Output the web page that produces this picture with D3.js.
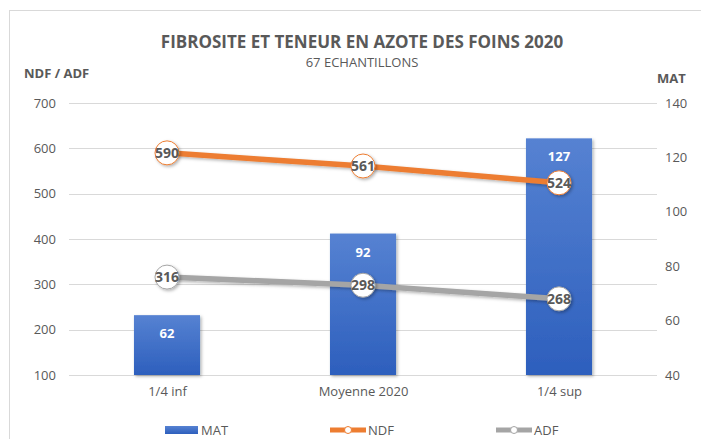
<!DOCTYPE html>
<html>
<head>
<meta charset="utf-8">
<script src="https://cdn.jsdelivr.net/npm/d3@7"></script>
<style>
  body { margin: 0; background: #fff; }
  text { font-family: "Open Sans", sans-serif; }
</style>
</head>
<body>
<script>
var categories = ["1/4 inf", "Moyenne 2020", "1/4 sup"];
var mat = [62, 92, 127];
var ndf = [590, 561, 524];
var adf = [316, 298, 268];
var leftTicks = [100, 200, 300, 400, 500, 600, 700];
var rightTicks = [40, 60, 80, 100, 120, 140];

var width = 701, height = 439;
var plot = {left: 69, right: 657, top: 103, bottom: 375};

var svg = d3.select("body").append("svg")
    .attr("width", width)
    .attr("height", height);

var defs = svg.append("defs");
var grad = defs.append("linearGradient")
    .attr("id", "barGrad").attr("x1", 0).attr("y1", 0).attr("x2", 0).attr("y2", 1);
grad.append("stop").attr("offset", "0%").attr("stop-color", "#5682d2");
grad.append("stop").attr("offset", "100%").attr("stop-color", "#2d5fbd");

var shadow = defs.append("filter").attr("id", "shadow")
    .attr("x", "-20%").attr("y", "-20%").attr("width", "150%").attr("height", "150%");
shadow.append("feDropShadow")
    .attr("dx", 1.5).attr("dy", 1.5).attr("stdDeviation", 1.5)
    .attr("flood-color", "#000").attr("flood-opacity", 0.3);

// cadre du graphique
svg.append("rect")
    .attr("x", 9.5).attr("y", 10.5)
    .attr("width", 800).attr("height", 800)
    .attr("fill", "none").attr("stroke", "#d9d9d9");

var x = d3.scalePoint().domain(categories).range([plot.left, plot.right]).padding(0.5);
var barW = x.step() * 0.337;
var yL = d3.scaleLinear().domain([100, 700]).range([plot.bottom, plot.top]);
var yR = d3.scaleLinear().domain([40, 140]).range([plot.bottom, plot.top]);

// grille
svg.append("g").selectAll("line")
    .data(leftTicks)
    .enter().append("line")
    .attr("x1", plot.left).attr("x2", plot.right)
    .attr("y1", function(d) { return Math.round(yL(d)) + 0.5; })
    .attr("y2", function(d) { return Math.round(yL(d)) + 0.5; })
    .attr("stroke", "#d9d9d9");

function styleAxis(ax) {
  ax.select(".domain").remove();
  ax.selectAll("text").attr("font-size", 13).attr("fill", "#595959")
      .style("font-family", "'Open Sans', sans-serif");
}

var axL = svg.append("g").attr("transform", "translate(" + plot.left + ",0)")
    .call(d3.axisLeft(yL).tickValues(leftTicks).tickSize(0).tickPadding(13));
styleAxis(axL);

var axR = svg.append("g").attr("transform", "translate(" + plot.right + ",0)")
    .call(d3.axisRight(yR).tickValues(rightTicks).tickSize(0).tickPadding(8));
styleAxis(axR);

var axX = svg.append("g").attr("transform", "translate(0," + plot.bottom + ")")
    .call(d3.axisBottom(x).tickSize(0).tickPadding(12));
styleAxis(axX);

// barres MAT
svg.append("g").selectAll("rect")
    .data(mat)
    .enter().append("rect")
    .attr("x", function(d, i) { return x(categories[i]) - barW / 2; })
    .attr("y", function(d) { return yR(d); })
    .attr("width", barW)
    .attr("height", function(d) { return plot.bottom - yR(d); })
    .attr("fill", "url(#barGrad)")
    .attr("filter", "url(#shadow)");

svg.append("g").selectAll("text")
    .data(mat)
    .enter().append("text")
    .attr("x", function(d, i) { return x(categories[i]); })
    .attr("y", function(d) { return yR(d) + 23; })
    .attr("text-anchor", "middle")
    .attr("font-size", 13).attr("font-weight", "bold")
    .attr("fill", "#fff")
    .text(function(d) { return d; });

// courbes NDF / ADF
function drawSeries(values, color) {
  var line = d3.line()
      .x(function(d, i) { return x(categories[i]); })
      .y(function(d) { return yL(d); });
  svg.append("path")
      .datum(values)
      .attr("d", line)
      .attr("fill", "none")
      .attr("stroke", color)
      .attr("stroke-width", 5.5)
      .attr("filter", "url(#shadow)");
  var g = svg.append("g");
  g.selectAll("circle")
      .data(values)
      .enter().append("circle")
      .attr("cx", function(d, i) { return x(categories[i]); })
      .attr("cy", function(d) { return yL(d); })
      .attr("r", 12)
      .attr("fill", "#fff")
      .attr("stroke", color)
      .attr("stroke-width", 1)
      .attr("filter", "url(#shadow)");
  g.selectAll("text")
      .data(values)
      .enter().append("text")
      .attr("x", function(d, i) { return x(categories[i]); })
      .attr("y", function(d) { return yL(d) + 5; })
      .attr("text-anchor", "middle")
      .attr("font-size", 14).attr("font-weight", "bold")
      .attr("fill", "#595959")
      .text(function(d) { return d; });
}
drawSeries(ndf, "#ed7d31");
drawSeries(adf, "#a5a5a5");

// titres
svg.append("text")
    .attr("x", 362).attr("y", 48)
    .attr("text-anchor", "middle")
    .attr("font-size", 17).attr("font-weight", "bold")
    .attr("fill", "#595959")
    .text("FIBROSITE ET TENEUR EN AZOTE DES FOINS 2020");
svg.append("text")
    .attr("x", 362).attr("y", 67)
    .attr("text-anchor", "middle")
    .attr("font-size", 13)
    .attr("fill", "#595959")
    .text("67 ECHANTILLONS");
svg.append("text")
    .attr("x", 24).attr("y", 78)
    .attr("font-size", 13).attr("font-weight", "bold")
    .attr("fill", "#595959")
    .text("NDF / ADF");
svg.append("text")
    .attr("x", 657).attr("y", 83)
    .attr("font-size", 13).attr("font-weight", "bold")
    .attr("fill", "#595959")
    .text("MAT");

// légende
var legendY = 430;
var leg = svg.append("g");
leg.append("rect")
    .attr("x", 165).attr("y", legendY - 4).attr("width", 33).attr("height", 8)
    .attr("fill", "url(#barGrad)");
leg.append("text").attr("x", 201).attr("y", legendY + 5)
    .attr("font-size", 13).attr("fill", "#595959").text("MAT");

var lineLegend = [{name: "NDF", color: "#ed7d31", x: 330}, {name: "ADF", color: "#a5a5a5", x: 496}];
lineLegend.forEach(function(l) {
  leg.append("line")
      .attr("x1", l.x).attr("x2", l.x + 36)
      .attr("y1", legendY).attr("y2", legendY)
      .attr("stroke", l.color).attr("stroke-width", 5);
  leg.append("circle")
      .attr("cx", l.x + 18).attr("cy", legendY).attr("r", 3.5)
      .attr("fill", "#fff").attr("stroke", l.color);
  leg.append("text").attr("x", l.x + 38).attr("y", legendY + 5)
      .attr("font-size", 13).attr("fill", "#595959").text(l.name);
});
</script>
</body>
</html>
